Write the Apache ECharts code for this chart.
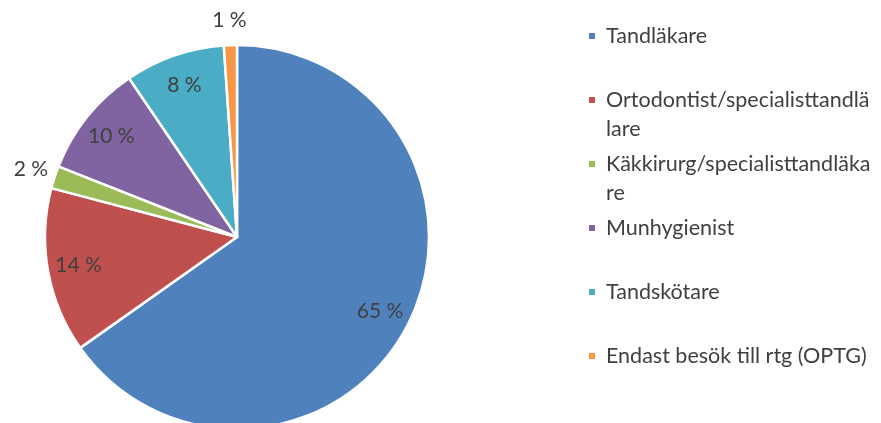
<!DOCTYPE html>
<html>
<head>
<meta charset="utf-8">
<script src="https://cdn.jsdelivr.net/npm/echarts@6/dist/echarts.min.js"></script>
<style>
html, body { margin: 0; background: #fff; }
#chart { width: 881px; height: 423px; }
</style>
</head>
<body>
<div id="chart"></div>
<script>
const categories = [
    "Tandläkare",
    "Ortodontist/specialisttandlälare",
    "Käkkirurg/specialisttandläkare",
    "Munhygienist",
    "Tandskötare",
    "Endast besök till rtg (OPTG)",
]
const shares = [65.2, 13.9, 1.9, 9.5, 8.4, 1.1]
const colors = ["#4F81BD", "#C0504D", "#9BBB59", "#8064A2", "#4BACC6", "#F79646"]

const font = "Lato"
const textColor = "#404040"
const lineH = 29
const center = [237, 237]
const outerLimit = 3 // slices smaller than this get their label outside
// legend wrap widths, tuned so the breaks land where the original's did
const wrapWidths = [285, 279, 293, 285, 285, 285]

const chart = echarts.init(document.getElementById("chart"), null, { renderer: "canvas" })

const labelText = p => Math.round(p.value) + " %"
const labelStyle = {
    position: "inside",
    formatter: labelText,
    color: textColor,
    fontFamily: font,
    fontSize: 21,
    textBorderWidth: 0,
}
const clear = { color: "rgba(0,0,0,0)", borderWidth: 0 }

chart.setOption({
    animation: false,
    color: colors,
    legend: {
        orient: "vertical",
        left: 587,
        top: 36 - lineH * 1.5,
        padding: 0,
        icon: "rect",
        itemWidth: 8,
        itemHeight: 8,
        itemGap: 64 - lineH * 3,
        selectedMode: false,
        data: categories.map((name, i) => ({ name, textStyle: { width: wrapWidths[i] } })),
        textStyle: {
            fontFamily: font,
            fontSize: 21.5,
            lineHeight: lineH,
            color: textColor,
            height: lineH * 2,
            overflow: "breakAll",
            padding: [lineH, 0, 0, 5],
            backgroundColor: "rgba(255,255,255,0)",
            rich: { t: {} },
        },
    },
    series: [
        {
            type: "pie",
            center: center,
            radius: 192,
            startAngle: 90,
            clockwise: true,
            silent: true,
            label: { show: false },
            labelLine: { show: false },
            itemStyle: { borderColor: "#fff", borderWidth: 2.5 },
            data: categories.map((name, i) => ({ name, value: shares[i] })),
        },
        {
            // inner labels
            type: "pie",
            center: center,
            radius: [124, 192],
            silent: true,
            avoidLabelOverlap: false,
            itemStyle: clear,
            labelLine: { show: false },
            data: categories.map((name, i) => ({
                name, value: shares[i],
                label: Object.assign({}, labelStyle, { show: shares[i] >= outerLimit }),
            })),
        },
        {
            // outer labels for thin slices
            type: "pie",
            center: center,
            radius: [194, 234],
            silent: true,
            avoidLabelOverlap: false,
            itemStyle: clear,
            labelLine: { show: false },
            data: categories.map((name, i) => ({
                name, value: shares[i],
                label: Object.assign({}, labelStyle, { show: shares[i] < outerLimit }),
            })),
        },
    ],
})
</script>
</body>
</html>
